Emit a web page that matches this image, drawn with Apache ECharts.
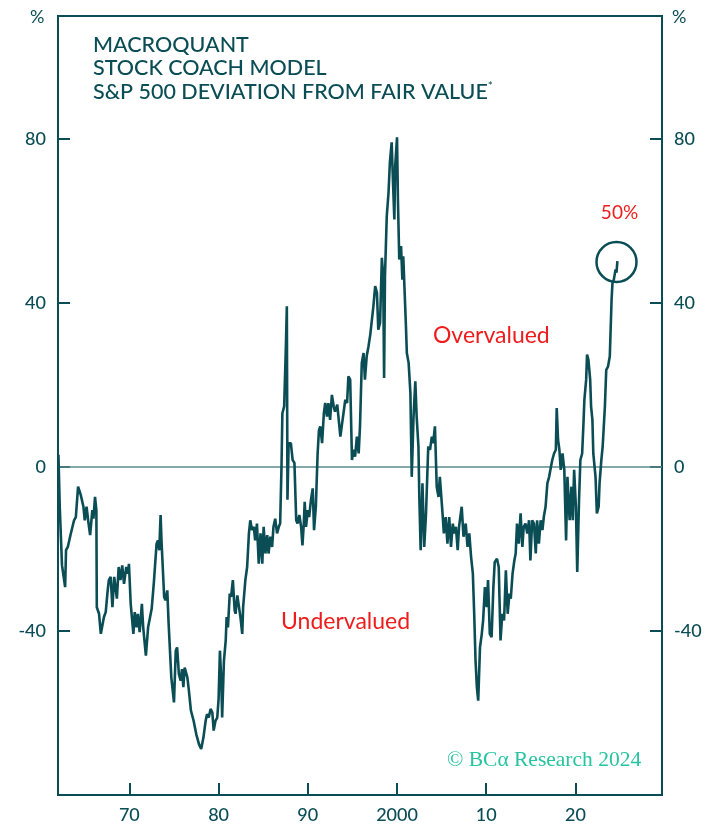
<!DOCTYPE html>
<html>
<head>
<meta charset="utf-8">
<script src="https://cdn.jsdelivr.net/npm/echarts@6/dist/echarts.min.js"></script>
<style>
html, body { margin: 0; padding: 0; background: #fff; }
#chart { width: 718px; height: 825px; }
</style>
</head>
<body>
<div id="chart"></div>
<script>
// S&P 500 deviation from fair value (decimal years, %)
var years = [
  1962.05, 1962.2, 1962.45, 1962.8, 1962.9, 1963.1, 1963.4, 1963.8, 1964.0, 1964.25, 1964.4, 1964.55, 1964.85,
  1965.0, 1965.2, 1965.4, 1965.6, 1965.85, 1965.97, 1966.15, 1966.3, 1966.35, 1966.6, 1966.8, 1967.0, 1967.15,
  1967.35, 1967.55, 1967.7, 1967.9, 1968.1, 1968.3, 1968.6, 1968.8, 1969.0, 1969.2, 1969.4, 1969.65, 1969.85,
  1969.95, 1970.15, 1970.3, 1970.45, 1970.6, 1970.8, 1970.95, 1971.15, 1971.4, 1971.55, 1971.85, 1972.1, 1972.5,
  1972.75, 1973.05, 1973.2, 1973.35, 1973.5, 1973.6, 1973.9, 1974.05, 1974.25, 1974.4, 1974.7, 1974.85, 1975.0,
  1975.2, 1975.35, 1975.55, 1975.75, 1975.9, 1976.05, 1976.2, 1976.5, 1976.65, 1976.9, 1977.2, 1977.5, 1977.8,
  1978.05, 1978.3, 1978.55, 1978.7, 1978.9, 1979.1, 1979.3, 1979.45, 1979.65, 1979.85, 1980.0, 1980.15, 1980.3,
  1980.4, 1980.6, 1980.8, 1980.9, 1981.05, 1981.25, 1981.4, 1981.6, 1981.8, 1981.9, 1982.1, 1982.3, 1982.45,
  1982.65, 1982.75, 1983.0, 1983.2, 1983.4, 1983.55, 1983.75, 1983.95, 1984.1, 1984.3, 1984.5, 1984.7, 1984.9,
  1985.05, 1985.25, 1985.45, 1985.6, 1985.8, 1986.0, 1986.15, 1986.35, 1986.55, 1986.75, 1986.9, 1987.05,
  1987.15, 1987.35, 1987.55, 1987.65, 1987.72, 1987.85, 1988.1, 1988.3, 1988.5, 1988.7, 1988.85, 1989.05,
  1989.25, 1989.4, 1989.55, 1989.65, 1989.8, 1990.0, 1990.15, 1990.35, 1990.55, 1990.7, 1990.9, 1991.1,
  1991.25, 1991.4, 1991.6, 1991.8, 1991.95, 1992.15, 1992.3, 1992.5, 1992.7, 1992.9, 1993.05, 1993.3, 1993.65,
  1993.8, 1994.0, 1994.2, 1994.4, 1994.55, 1994.75, 1994.95, 1995.1, 1995.3, 1995.5, 1995.7, 1995.85, 1996.05,
  1996.25, 1996.4, 1996.6, 1996.8, 1997.0, 1997.2, 1997.35, 1997.55, 1997.75, 1997.9, 1998.1, 1998.3, 1998.45,
  1998.55, 1998.65, 1998.85, 1999.05, 1999.2, 1999.4, 1999.55, 1999.7, 1999.8, 2000.0, 2000.1, 2000.25,
  2000.45, 2000.6, 2000.7, 2001.0, 2001.1, 2001.3, 2001.5, 2001.65, 2001.85, 2002.05, 2002.2, 2002.4, 2002.5,
  2002.65, 2002.85, 2003.05, 2003.25, 2003.5, 2003.7, 2003.9, 2004.05, 2004.25, 2004.45, 2004.65, 2004.8,
  2005.1, 2005.25, 2005.45, 2005.65, 2005.85, 2006.05, 2006.25, 2006.4, 2006.6, 2006.8, 2006.95, 2007.25,
  2007.45, 2007.7, 2007.9, 2008.1, 2008.3, 2008.5, 2008.65, 2008.8, 2008.95, 2009.1, 2009.3, 2009.5, 2009.65,
  2009.85, 2010.05, 2010.2, 2010.4, 2010.6, 2010.8, 2010.95, 2011.2, 2011.4, 2011.6, 2011.8, 2012.0, 2012.2,
  2012.4, 2012.6, 2012.75, 2012.95, 2013.15, 2013.3, 2013.45, 2013.65, 2013.85, 2014.05, 2014.2, 2014.4,
  2014.6, 2014.8, 2014.95, 2015.15, 2015.35, 2015.55, 2015.7, 2015.9, 2016.1, 2016.3, 2016.45, 2016.65,
  2016.85, 2017.05, 2017.25, 2017.4, 2017.6, 2017.8, 2017.9, 2018.05, 2018.2, 2018.35, 2018.55, 2018.75,
  2018.95, 2019.1, 2019.35, 2019.55, 2019.7, 2019.85, 2020.05, 2020.2, 2020.4, 2020.55, 2020.75, 2020.9,
  2021.0, 2021.2, 2021.3, 2021.45, 2021.65, 2021.75, 2021.9, 2022.0, 2022.25, 2022.4, 2022.6, 2022.7, 2022.9,
  2023.05, 2023.3, 2023.45, 2023.65, 2023.85, 2024.05, 2024.15, 2024.3, 2024.5, 2024.6, 2024.7
];
var deviation = [
  3, -10, -24, -29.3, -20.3, -19.5, -16.6, -13, -12.2, -4.8, -4.4, -6.8, -9.7,
  -13, -9.7, -13.4, -16.6, -10.5, -12.6, -7.3, -10.5, -34.2, -35.8, -40.7, -41.1, -36.6,
  -35.4, -30.5, -27.6, -26.8, -34.2, -26.8, -32.1, -24.4, -27.6, -24, -28.5, -24.4, -26,
  -23.6, -33.4, -33, -40.7, -35.4, -39.1, -35.8, -40.3, -33.4, -39.1, -46, -39.1, -34.6,
  -28, -18.7, -17.9, -20.3, -11.7, -17.9, -31.7, -32.5, -30.1, -38.2, -51.3, -51.7, -57.4,
  -44.8, -44, -50.5, -52.1, -49.3, -53.7, -48.9, -51.3, -54.1, -59.4, -61.9, -65.2, -67.6,
  -68.8, -66, -61.9, -60.3, -61.1, -59, -59.9, -64.3, -61.9, -61.1, -56.6, -44.8, -52.1,
  -61.1, -47.2, -42.3, -36.6, -39.1, -30.9, -31.7, -27.6, -35, -35.8, -31.3, -31.3, -36.6,
  -40.7, -34.2, -27.6, -24.4, -16.2, -13, -15.4, -14.6, -17.9, -13.8, -23.6, -16.2, -23.6,
  -14.6, -21.1, -16.6, -21.1, -17, -19.5, -14.6, -12.6, -16.2, -14.6, -13.8, 0,
  13.1, 14.8, 30, 39.2, -8, 5.8, 5.8, 1.7, 1, -13, -13.8, -11.7,
  -14.6, -19.1, -13.8, -8.5, -14.6, -10.5, -12.2, -8.1, -5.2, -15.4, -9.7, 3.3,
  9, 9.9, 5.8, 13.1, 15.6, 12.3, 15.6, 11.5, 17.6, 14.8, 13.5, 15.2, 7.4,
  9.9, 13.1, 16.4, 15.6, 22.1, 21.3, 1.7, 4.2, 2.5, 7.4, 3.3, 9.9, 25.4,
  27.8, 21.3, 27, 29.4, 32.3, 31.9, 39.2, 44.1, 42.5, 33.5, 35.2, 51, 46.6,
  21.7, 46.6, 61.2, 67, 74.3, 79.2, 69.4, 60.4, 73.5, 80.4, 65.3, 50.6,
  53.9, 45.7, 51.4, 34.3, 27.8, 25.4, 18, -2.4, 12.3, 20.9, 12.3, 5, -7.3,
  -20.3, -4, -19.5, -11.3, 5, 4.2, 7.4, 5.8, 9.9, -4.8, -7.3, -2.4,
  -11.3, -16.2, -12.2, -18.7, -12.2, -19.5, -13.8, -16.2, -14.6, -20.3, -14.6, -9.7,
  -17, -13.8, -19.5, -16.2, -21.9, -26, -35.8, -47.2, -53.7, -57, -44, -40.7, -37.4,
  -29.3, -34.2, -27.6, -40.7, -41.5, -29.3, -23.2, -22.4, -24.4, -42.3, -35.8, -37.4, -25.2,
  -35.8, -30.9, -32.1, -26, -22.8, -21.1, -13.8, -18.7, -11.3, -19.5, -14.6, -13.8,
  -16.2, -13, -22.8, -13, -13.8, -21.1, -13, -18.7, -13, -15.4, -12.2, -9.7,
  -4, -2.4, 0, 1.7, 3.3, 4.2, 14.4, 6.6, 4.2, -0.7, 3.3, -0.7,
  -17.9, -2.4, -13, -4.8, -13, -0.7, -9.7, -25.6, -8.1, 1.7, 3.3, 10.7,
  16.4, 21.3, 27.4, 26.2, 21.3, 14.8, 11.5, 3.3, -2.4, -11.3, -9.7, -4, 1.7,
  5, 14.8, 23.7, 24.5, 27, 40.9, 44.9, 45.7, 48.2, 47.4, 50.2
];
var xTicks = [1970, 1980, 1990, 2000, 2010, 2020];
var yTicks = [-40, 0, 40, 80];
var latest = [2024.6, 50];

var teal = '#0b4d55';
var red = '#ee1c1c';
var font = 'Lato';

var seriesData = years.map(function (y, i) { return [y, deviation[i]]; });

var yAxisBase = function (pos) {
  return {
    type: 'value',
    position: pos,
    min: -80,
    max: 110,
    axisLine: { show: true, onZero: false, lineStyle: { color: teal, width: 2 } },
    axisTick: { show: true, inside: true, length: 12, customValues: yTicks, lineStyle: { color: teal, width: 2 } },
    axisLabel: { customValues: yTicks, color: teal, fontSize: 18, fontFamily: font, fontWeight: 500, margin: 12 },
    splitLine: { show: false }
  };
};

var chart = echarts.init(document.getElementById('chart'));
chart.setOption({
  animation: false,
  grid: { left: 58, right: 56, top: 16, bottom: 30, show: true, borderColor: teal, borderWidth: 2, backgroundColor: 'transparent' },
  xAxis: {
    type: 'value',
    min: 1962,
    max: 2029.7,
    axisLine: { show: true, onZero: false, lineStyle: { color: teal, width: 2 } },
    axisTick: { show: true, inside: true, length: 12, customValues: xTicks, lineStyle: { color: teal, width: 2 } },
    axisLabel: {
      customValues: xTicks, color: teal, fontSize: 18, fontFamily: font, fontWeight: 500, margin: 11,
      formatter: function (v) { return v === 2000 ? '2000' : String(v % 100); }
    },
    splitLine: { show: false }
  },
  yAxis: [yAxisBase('left'), yAxisBase('right')],
  series: [{
    type: 'line',
    data: seriesData,
    showSymbol: false,
    lineStyle: { color: teal, width: 2.6 },
    z: 3,
    markLine: {
      silent: true,
      symbol: 'none',
      label: { show: false },
      lineStyle: { color: '#5b8a8d', width: 1.5, type: 'solid' },
      data: [{ yAxis: 0 }],
      z: 1
    },
    markPoint: {
      silent: true,
      symbol: 'circle',
      symbolSize: 40,
      itemStyle: { color: 'rgba(0,0,0,0)', borderColor: teal, borderWidth: 2.5 },
      label: {
        show: true, position: 'top', distance: 18, offset: [3, 0],
        formatter: '50%', color: red, fontSize: 19, fontFamily: font
      },
      data: [{ coord: latest }]
    }
  }],
  graphic: [
    { type: 'text', left: 30, top: 8, style: { text: '%', fill: teal, fontSize: 18, fontFamily: font } },
    { type: 'text', left: 672, top: 8, style: { text: '%', fill: teal, fontSize: 18, fontFamily: font } },
    {
      type: 'text', left: 93, top: 33,
      style: {
        text: 'MACROQUANT\nSTOCK COACH MODEL\nS&P 500 DEVIATION FROM FAIR VALUE{sup|*}',
        fill: teal, fontSize: 21.5, fontFamily: font, fontWeight: 500, lineHeight: 23.5,
        rich: { sup: { fontSize: 12, verticalAlign: 'top', fill: teal, fontFamily: font, lineHeight: 23.5 } }
      }
    },
    { type: 'text', left: 433, top: 324, style: { text: 'Overvalued', fill: red, fontSize: 23, fontFamily: font } },
    { type: 'text', left: 281, top: 610, style: { text: 'Undervalued', fill: red, fontSize: 23, fontFamily: font } },
    { type: 'text', left: 447, top: 749, style: { text: '\u00a9 BC\u03b1 Research 2024', fill: '#26c4a0', fontSize: 21.5, fontFamily: 'Liberation Serif' } }
  ]
});
</script>
</body>
</html>
